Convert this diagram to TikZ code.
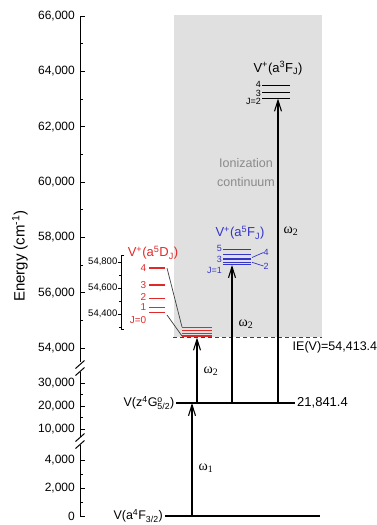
\documentclass[tikz,border=0pt]{standalone}
\usepackage{fontspec}
\setmainfont{Liberation Sans}
\newfontfamily\serifw{Liberation Serif}
\usetikzlibrary{arrows.meta}
\definecolor{boxgray}{HTML}{E0E0E0}
\definecolor{lvred}{HTML}{E02A2A}
\definecolor{lvblue}{HTML}{3434C8}
\definecolor{txtgray}{HTML}{8A8A8A}
\definecolor{conngray}{HTML}{404040}
\tikzset{
  axisline/.style={line width=1pt,black},
  level/.style={line width=1.5pt,black},
  redlev/.style={line width=1.2pt,lvred},
  bluelev/.style={line width=1.2pt,lvblue},
  blklev/.style={line width=1.2pt,black},
  arr/.style={line width=1.1pt,-{Straight Barb[length=11pt,width=7pt,line width=1.1pt]}},
  omg/.style={font=\serifw\fontsize{14}{16}\selectfont},
  ticklab/.style={anchor=east,font=\fontsize{12}{14}\selectfont,inner sep=0pt},
  smalllab/.style={anchor=east,font=\fontsize{9.5}{11}\selectfont,inner sep=0pt},
  jlab/.style={font=\fontsize{10}{11}\selectfont,inner sep=0pt},
  tightlab/.style={font=\fontsize{9}{10}\selectfont,inner sep=0pt},
}
\begin{document}
\begin{tikzpicture}[x=1pt,y=-1pt,font=\fontsize{12.5}{14}\selectfont]
\useasboundingbox (0,0) rectangle (377,525);
% ionization continuum box
\fill[boxgray] (174,15) rectangle (322,337);
\node[txtgray,align=center,font=\fontsize{12.5}{19}\selectfont] (ionc) at (246,172.5) {Ionization\\continuum};
% main axis, upper part
\draw[axisline] (80,16) -- (80,362);
\foreach \y/\t in {16/{66,000},71.3/{64,000},126.7/{62,000},182/{60,000},237.3/{58,000},292.7/{56,000},348/{54,000}}{
  \draw[axisline] (80,\y) -- (84.5,\y);
  \node[ticklab] at (75,\y) {\t};
}
\foreach \y in {43.7,99,154.3,209.7,265,320.3}{\draw[axisline] (80,\y) -- (82.5,\y);}
% break 1
\draw[axisline] (75.5,368.5) -- (84.5,360.5);
\draw[axisline] (75.5,375.5) -- (84.5,367.5);
% lower part 1
\draw[axisline] (80,372) -- (80,437);
\foreach \y/\t in {383/{30,000},406/{20,000},429/{10,000}}{
  \draw[axisline] (80,\y) -- (84.5,\y);
  \node[ticklab] at (75,\y) {\t};
}
\foreach \y in {394.5,417.5}{\draw[axisline] (80,\y) -- (82.5,\y);}
% break 2
\draw[axisline] (75.5,441.5) -- (84.5,433.5);
\draw[axisline] (75.5,448.5) -- (84.5,440.5);
% lower part 2
\draw[axisline] (80,445) -- (80,516);
\foreach \y/\t in {460/{4,000},488/{2,000},516/{0}}{
  \draw[axisline] (80,\y) -- (84.5,\y);
  \node[ticklab] at (75,\y) {\t};
}
\foreach \y in {474,502}{\draw[axisline] (80,\y) -- (82.5,\y);}
\node[rotate=90,font=\fontsize{15}{17}\selectfont] (elab) at (20,256) {Energy (cm\textsuperscript{-1})};

% inset axis for a5D
\draw[line width=0.8pt] (124,255) -- (121,255) -- (121,329) -- (124,329);
\foreach \y/\t in {262/{54,800},288/{54,600},314/{54,400}}{
  \draw[line width=0.8pt] (121,\y) -- (118,\y);
  \node[smalllab] at (117.5,\y) {\t};
}
\foreach \y in {275,301,327}{\draw[line width=0.8pt] (121,\y) -- (119,\y);}
\node[lvred,font=\fontsize{13}{15}\selectfont] (dtitle) at (153,253) {V\textsuperscript{+}(a\textsuperscript{5}D\textsubscript{J})};
\foreach \y in {268,285,298.5,307.6,312.3}{\draw[redlev] (149,\y) -- (165,\y);}
\node[jlab,lvred,anchor=east] (d4) at (146.5,268) {4};
\node[jlab,lvred,anchor=east] (d3) at (146.5,285) {3};
\node[jlab,lvred,anchor=east] (d2) at (146.5,297.5) {2};
\node[jlab,lvred,anchor=east] (d1) at (146.5,307.5) {1};
\node[jlab,lvred,anchor=east] (d0) at (146.5,320) {J=0};
\coordinate (i4) at (167,268);
\coordinate (i0) at (167,315);
\coordinate (r4) at (182,327);
\coordinate (r0) at (182,336);
\draw[conngray,line width=0.7pt] (i4) -- (r4);
\draw[conngray,line width=0.7pt] (i0) -- (r0);

% ionization energy
\coordinate (ieL) at (173,337);
\coordinate (ieR) at (322,337);
\draw[conngray,line width=0.9pt,dash pattern=on 4pt off 3pt] (ieL) -- (ieR);
\node[anchor=west,inner sep=0pt,font=\fontsize{12.5}{14}\selectfont] (ie) at (292.5,347) {IE(V)=54,413.4};

% a5D levels real scale
\foreach \y in {327.2,330.8,333.7,335.6,336.8}{\draw[lvred,line width=1.1pt] (182,\y) -- (212,\y);}

% a5F levels
\node[lvblue,font=\fontsize{13}{15}\selectfont] (ftitle) at (240,233) {V\textsuperscript{+}(a\textsuperscript{5}F\textsubscript{J})};
\foreach \y in {249.1,254.5,259,262.3,264.6}{\draw[bluelev] (223,\y) -- (251,\y);}
\node[tightlab,lvblue,anchor=east] (f5) at (222,248.5) {5};
\node[tightlab,lvblue,anchor=east] (f3) at (222,259.5) {3};
\node[tightlab,lvblue,anchor=east] (f1) at (222,270.5) {J=1};
\node[tightlab,lvblue,anchor=west] (f4) at (263.5,252.5) {4};
\node[tightlab,lvblue,anchor=west] (f2) at (263.5,266) {2};
\draw[lvblue,line width=0.7pt] (252,257.5) -- (f4.west);
\draw[lvblue,line width=0.7pt] (252,262.3) -- (f2.west);

% a3F levels
\node[font=\fontsize{13}{15}\selectfont] (ttitle) at (278,68) {V\textsuperscript{+}(a\textsuperscript{3}F\textsubscript{J})};
\foreach \y in {85.1,92.3,98.2}{\draw[blklev] (262,\y) -- (290,\y);}
\node[tightlab,anchor=east] (t4) at (261,84.5) {4};
\node[tightlab,anchor=east] (t3) at (261,93) {3};
\node[tightlab,anchor=east] (t2) at (261,101.5) {J=2};

% atomic levels
\draw[level] (165,516) -- (320,516);
\node[anchor=east,inner sep=0pt] (gl) at (163,516) {V(a\textsuperscript{4}F\textsubscript{3/2})};
\draw[level] (176,403) -- (295,403);
\node[anchor=east,inner sep=0pt] (zl) at (174.5,403) {V(z\textsuperscript{4}G\rlap{\textsuperscript{o}}\textsubscript{5/2})};
\node[anchor=west,inner sep=0pt,font=\fontsize{13}{15}\selectfont] (zv) at (297,403) {21,841.4};

% transitions
\coordinate (g1) at (192,516);
\coordinate (z1) at (192,403);
\coordinate (z2) at (197,403);
\coordinate (dtop) at (197,337.5);
\coordinate (z3) at (232,403);
\coordinate (ftop) at (232,265);
\coordinate (z4) at (278,403);
\coordinate (ttop) at (278,98.5);
\draw[arr] (g1) -- (z1);
\draw[arr] (z2) -- (dtop);
\draw[arr] (z3) -- (ftop);
\draw[arr] (z4) -- (ttop);
\node[omg] (w1) at (206,468) {ω\textsubscript{1}};
\node[omg] (w2a) at (211,371) {ω\textsubscript{2}};
\node[omg] (w2b) at (246,324) {ω\textsubscript{2}};
\node[omg] (w2c) at (291,231) {ω\textsubscript{2}};
\end{tikzpicture}
\end{document}
